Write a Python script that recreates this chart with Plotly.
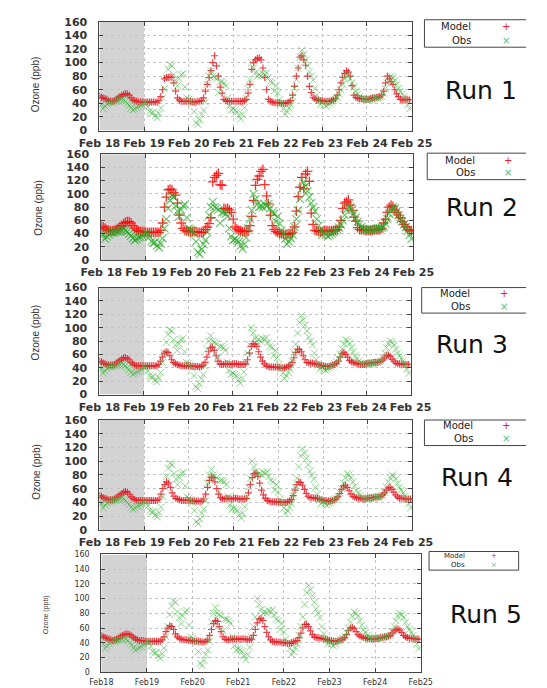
import plotly.graph_objects as go
from datetime import datetime, timedelta

# ---------------- data (hourly, 18 Feb 00:00 -> 24 Feb 23:00) ----------------
TICK_DATES = ["2013-02-18", "2013-02-19", "2013-02-20", "2013-02-21",
              "2013-02-22", "2013-02-23", "2013-02-24", "2013-02-25"]
TICK_TEXT = ["Feb 18", "Feb 19", "Feb 20", "Feb 21", "Feb 22", "Feb 23", "Feb 24", "Feb 25"]
TICK_TEXT_SMALL = ["Feb18", "Feb19", "Feb20", "Feb21", "Feb22", "Feb23", "Feb24", "Feb25"]
Y_TICKS = [0, 20, 40, 60, 80, 100, 120, 140, 160]
RUN_NAMES = ["Run 1", "Run 2", "Run 3", "Run 4", "Run 5"]

OBS = [
    41, 38, 32, 36, 39, 41, 42, 42, 43, 43, 44, 45, 46, 45, 43, 40, 37, 33, 30, 32, 34, 35, 37, 38,
    41, 40, 35, 28, 26, 27, 22, 19, 25, 33, 48, 62, 78, 90, 97, 95, 82, 74, 66, 76, 82, 84, 64, 48,
    46, 44, 40, 28, 12, 9, 16, 24, 30, 42, 68, 80, 88, 80, 78, 76, 56, 72, 72, 70, 66, 48, 36, 30,
    32, 30, 28, 22, 17, 24, 34, 48, 62, 75, 100, 92, 85, 80, 82, 80, 84, 82, 85, 78, 72, 70, 58, 66,
    55, 45, 40, 32, 24, 28, 33, 38, 50, 62, 75, 92, 108, 118, 112, 104, 95, 86, 80, 74, 62, 52, 44, 38,
    42, 38, 36, 38, 40, 42, 44, 46, 49, 54, 60, 68, 76, 82, 80, 76, 70, 64, 58, 54, 50, 47, 46, 46,
    46, 46, 45, 46, 47, 48, 48, 49, 50, 55, 62, 70, 76, 80, 78, 74, 68, 62, 58, 54, 50, 44, 38, 32,
]

MODEL_RUN1 = [
    51, 49, 48, 47, 46, 44, 43, 43, 44, 46, 48, 50, 52, 53, 54, 54, 52, 48, 45, 44, 43, 42, 42, 42,
    42, 42, 42, 42, 42, 42, 42, 42, 44, 50, 60, 76, 78, 78, 79, 78, 70, 58, 48, 45, 43, 43, 43, 43,
    43, 43, 42, 42, 42, 43, 43, 44, 48, 58, 68, 78, 88, 100, 110, 95, 80, 64, 55, 46, 44, 43, 43, 43,
    43, 43, 43, 43, 43, 43, 44, 46, 55, 68, 90, 100, 104, 106, 107, 104, 92, 78, 60, 46, 43, 42, 41, 41,
    41, 41, 40, 40, 40, 41, 42, 44, 52, 65, 80, 92, 108, 110, 104, 96, 80, 65, 56, 49, 47, 45, 45, 44,
    44, 43, 43, 43, 43, 44, 45, 47, 52, 60, 70, 78, 84, 88, 86, 80, 66, 52, 49, 48, 47, 47, 46, 46,
    46, 46, 47, 48, 48, 49, 49, 50, 52, 58, 70, 80, 76, 72, 68, 60, 54, 50, 46, 45, 45, 46, 46, 45,
]

MODEL_RUN2 = [
    51, 50, 48, 46, 45, 44, 44, 45, 46, 48, 50, 52, 55, 57, 58, 58, 56, 52, 48, 45, 44, 43, 43, 43,
    42, 42, 42, 42, 42, 42, 42, 42, 45, 56, 80, 95, 106, 107, 106, 102, 98, 86, 68, 56, 48, 45, 44, 43,
    43, 43, 43, 43, 42, 42, 42, 42, 46, 50, 55, 64, 118, 125, 128, 131, 114, 113, 78, 77, 78, 76, 72, 62,
    50, 47, 45, 44, 43, 43, 43, 44, 52, 66, 90, 113, 122, 127, 134, 137, 114, 97, 85, 68, 52, 46, 43, 42,
    40, 40, 39, 39, 39, 40, 40, 41, 50, 74, 96, 110, 125, 108, 130, 134, 119, 71, 54, 45, 44, 43, 43, 43,
    45, 45, 44, 44, 44, 44, 45, 46, 50, 60, 78, 86, 88, 91, 83, 75, 65, 59, 49, 46, 46, 46, 45, 45,
    45, 45, 45, 46, 46, 46, 46, 48, 56, 62, 72, 80, 83, 81, 76, 72, 68, 64, 58, 54, 50, 46, 45, 44,
]

MODEL_RUN3 = [
    50, 49, 47, 46, 45, 44, 44, 44, 45, 47, 49, 51, 53, 55, 55, 54, 52, 48, 46, 44, 43, 43, 43, 43,
    43, 43, 43, 43, 43, 43, 43, 43, 45, 50, 56, 62, 64, 63, 58, 52, 48, 46, 45, 44, 43, 43, 43, 43,
    43, 43, 42, 42, 42, 42, 41, 42, 44, 48, 56, 64, 70, 71, 66, 58, 50, 46, 45, 45, 46, 46, 45, 45,
    46, 46, 46, 45, 45, 45, 45, 46, 52, 62, 72, 76, 75, 72, 64, 56, 50, 46, 43, 42, 41, 41, 41, 41,
    41, 40, 40, 40, 40, 41, 42, 44, 48, 55, 63, 68, 67, 64, 58, 52, 48, 47, 47, 47, 46, 46, 45, 44,
    43, 43, 42, 42, 42, 43, 44, 45, 47, 50, 56, 61, 63, 60, 56, 51, 49, 48, 47, 46, 46, 45, 45, 45,
    46, 47, 47, 47, 48, 48, 48, 49, 50, 52, 55, 58, 59, 57, 53, 50, 47, 46, 46, 46, 45, 45, 45, 45,
]

MODEL_RUN4 = [
    50, 49, 47, 46, 45, 44, 44, 44, 45, 47, 49, 51, 53, 55, 56, 55, 52, 48, 46, 44, 43, 43, 43, 43,
    43, 43, 43, 43, 43, 43, 43, 43, 45, 52, 60, 66, 70, 68, 62, 54, 49, 46, 45, 44, 43, 43, 43, 43,
    43, 43, 42, 42, 42, 42, 41, 42, 45, 52, 62, 72, 77, 76, 70, 60, 52, 47, 45, 45, 46, 46, 45, 45,
    46, 46, 46, 45, 45, 45, 45, 46, 54, 66, 76, 82, 83, 78, 68, 58, 51, 46, 43, 42, 41, 41, 41, 41,
    41, 40, 40, 40, 40, 41, 42, 44, 50, 58, 66, 70, 69, 65, 59, 53, 49, 47, 47, 47, 46, 46, 45, 44,
    43, 43, 42, 42, 42, 43, 44, 45, 48, 53, 59, 64, 65, 62, 57, 52, 49, 48, 47, 46, 46, 45, 45, 45,
    46, 47, 47, 47, 48, 48, 48, 49, 51, 54, 58, 61, 62, 59, 55, 51, 48, 46, 46, 46, 45, 45, 45, 45,
]

MODEL_RUN5 = [
    50, 48, 47, 46, 45, 44, 43, 44, 45, 46, 48, 50, 51, 52, 52, 51, 49, 47, 45, 44, 43, 43, 43, 42,
    42, 42, 42, 42, 42, 42, 42, 42, 44, 48, 55, 60, 63, 62, 58, 52, 48, 46, 45, 44, 44, 44, 43, 43,
    43, 42, 42, 42, 42, 41, 41, 42, 44, 50, 58, 66, 70, 69, 62, 55, 48, 45, 44, 44, 45, 45, 45, 45,
    45, 45, 45, 45, 45, 44, 44, 45, 50, 58, 67, 72, 73, 70, 62, 54, 48, 44, 42, 41, 41, 41, 41, 40,
    40, 40, 39, 39, 40, 41, 42, 43, 47, 53, 60, 65, 65, 62, 56, 51, 48, 47, 47, 46, 46, 45, 45, 44,
    43, 43, 42, 42, 42, 43, 44, 45, 47, 51, 57, 60, 61, 59, 55, 51, 49, 48, 47, 46, 46, 45, 45, 45,
    45, 46, 46, 47, 47, 48, 48, 49, 50, 53, 56, 58, 59, 57, 54, 50, 48, 47, 46, 46, 46, 45, 45, 45,
]

MODELS = [MODEL_RUN1, MODEL_RUN2, MODEL_RUN3, MODEL_RUN4, MODEL_RUN5]

START = datetime(2013, 2, 18)
TIMES = [START + timedelta(hours=h) for h in range(len(OBS))]

# ---------------- layout geometry (pixels) ----------------
W, H = 547, 688


def px(x):
    return x / W


def py(y):
    return 1 - y / H


# plot box: left, right, top, bottom
PANELS = [
    dict(box=(85, 423, 16, 127), small=False),
    dict(box=(87, 425, 151, 259), small=False),
    dict(box=(85, 422, 287, 396), small=False),
    dict(box=(85, 424, 422, 534), small=False),
    dict(box=(87, 433, 559, 679), small=True),
]
# legend: box x0,y0,x1,y1 ; open on right? ; text right edge ; row y's ; marker x ; font size
LEGENDS = [
    dict(box=(437, 14, 547, 42), open_right=True, tx=490, rows=(21, 35), mx=525, fs=10),
    dict(box=(440, 150, 547, 177), open_right=True, tx=494, rows=(157, 170), mx=528, fs=10),
    dict(box=(434, 287, 547, 313), open_right=True, tx=488, rows=(293, 306), mx=523, fs=10),
    dict(box=(437, 422, 547, 448), open_right=True, tx=492, rows=(428, 441), mx=525, fs=10),
    dict(box=(442, 556, 539, 575), open_right=False, tx=483, rows=(561, 570), mx=512, fs=7),
]
RUN_LABEL_POS = [(498, 86, "center"), (499, 205, "center"), (488, 345, "center"),
                 (494, 481, "center"), (463, 620, "left")]
YTITLE_POS = [(16, 80, 10), (18, 206, 10), (16, 333, 10), (16, 475, 10), (27, 620, 7)]

MODEL_STYLE = [
    dict(size=5, width=1.2, color="rgba(228,30,40,0.85)"),
    dict(size=7, width=1.3, color="rgba(255,10,10,0.85)"),
    dict(size=5, width=1.2, color="rgba(228,30,40,0.85)"),
    dict(size=5, width=1.2, color="rgba(228,30,40,0.85)"),
    dict(size=5, width=1.2, color="rgba(228,30,40,0.85)"),
]
OBS_STYLE = [
    dict(size=7, width=1.0, color="rgba(70,185,70,0.6)"),
    dict(size=8, width=1.1, color="rgba(40,170,40,0.7)"),
    dict(size=7, width=1.0, color="rgba(70,185,70,0.6)"),
    dict(size=7, width=1.0, color="rgba(70,185,70,0.6)"),
    dict(size=7, width=1.0, color="rgba(70,185,70,0.6)"),
]

fig = go.Figure()
shapes = []
annotations = []
layout_axes = {}

for i, panel in enumerate(PANELS):
    n = "" if i == 0 else str(i + 1)
    xa, ya = "x" + n, "y" + n
    left, right, top, bottom = panel["box"]
    small = panel["small"]

    fig.add_trace(go.Scatter(
        x=TIMES, y=MODELS[i], xaxis=xa, yaxis=ya, mode="markers", name="Model",
        showlegend=False,
        marker=dict(symbol="cross-thin", size=MODEL_STYLE[i]["size"],
                    line=dict(width=MODEL_STYLE[i]["width"], color=MODEL_STYLE[i]["color"])),
    ))
    fig.add_trace(go.Scatter(
        x=TIMES, y=OBS, xaxis=xa, yaxis=ya, mode="markers", name="Obs",
        showlegend=False,
        marker=dict(symbol="x-thin", size=OBS_STYLE[i]["size"],
                    line=dict(width=OBS_STYLE[i]["width"], color=OBS_STYLE[i]["color"])),
    ))

    tfont = dict(family="DejaVu Sans", size=8 if small else 11, color="#333",
                 weight="normal" if small else "bold")
    layout_axes["xaxis" + n] = dict(
        domain=[px(left), px(right)], anchor=ya, type="date",
        range=[TICK_DATES[0], TICK_DATES[-1]],
        tickmode="array", tickvals=TICK_DATES,
        ticktext=TICK_TEXT_SMALL if small else TICK_TEXT,
        tickfont=tfont, showgrid=True, gridcolor="#c4c4c4", griddash="dot", gridwidth=1,
        showline=True, linecolor="#444", linewidth=1, mirror="allticks",
        ticks="inside", ticklen=4, tickcolor="#444", ticklabelstandoff=2,
        zeroline=False, fixedrange=True,
    )
    layout_axes["yaxis" + n] = dict(
        domain=[py(bottom), py(top)], anchor=xa, range=[0, 160],
        tickmode="array", tickvals=Y_TICKS, tickfont=tfont,
        showgrid=True, gridcolor="#c4c4c4", griddash="dot", gridwidth=1,
        showline=True, linecolor="#444", linewidth=1, mirror="allticks",
        ticks="inside", ticklen=4, tickcolor="#444", ticklabelstandoff=9,
        zeroline=False, fixedrange=True,
    )

    # grey spin-up shading (Feb 18 -> Feb 19)
    shapes.append(dict(type="rect", xref=xa, yref=ya, x0=TICK_DATES[0], x1=TICK_DATES[1],
                       y0=0, y1=160, fillcolor="#d3d3d3", line=dict(width=0), layer="below"))

    # legend box (cut off by the right page edge in the reference for runs 1-4)
    lg = LEGENDS[i]
    x0, y0, x1, y1 = lg["box"]
    X0, X1, Y0, Y1 = px(x0), px(x1), py(y1), py(y0)
    if lg["open_right"]:
        path = f"M {X1},{Y1} L {X0},{Y1} L {X0},{Y0} L {X1},{Y0}"
    else:
        path = f"M {X0},{Y0} L {X1},{Y0} L {X1},{Y1} L {X0},{Y1} Z"
    shapes.append(dict(type="path", xref="paper", yref="paper", path=path,
                       line=dict(color="#444", width=1), layer="above"))
    for label, ry, sym, col in [("Model", lg["rows"][0], "+", "#e8202a"),
                                ("Obs", lg["rows"][1], "×", "#5cbf5c")]:
        annotations.append(dict(xref="paper", yref="paper", x=px(lg["tx"]), y=py(ry),
                                text=label, showarrow=False, xanchor="right", yanchor="middle",
                                font=dict(family="DejaVu Sans", size=lg["fs"], color="#222")))
        annotations.append(dict(xref="paper", yref="paper", x=px(lg["mx"]), y=py(ry),
                                text=sym, showarrow=False, xanchor="center", yanchor="middle",
                                font=dict(family="DejaVu Sans", size=lg["fs"], color=col)))

    # run label
    rx, ry, anc = RUN_LABEL_POS[i]
    annotations.append(dict(xref="paper", yref="paper", x=px(rx), y=py(ry), text=RUN_NAMES[i],
                            showarrow=False, xanchor=anc, yanchor="middle",
                            font=dict(family="DejaVu Sans", size=25, color="#111")))
    # y-axis title
    tx, ty, tfs = YTITLE_POS[i]
    annotations.append(dict(xref="paper", yref="paper", x=px(tx), y=py(ty), text="Ozone (ppb)",
                            showarrow=False, textangle=-90, xanchor="center", yanchor="middle",
                            font=dict(family="Liberation Sans", size=tfs, color="#333")))

fig.update_layout(
    width=W, height=H, margin=dict(l=0, r=0, t=0, b=0),
    paper_bgcolor="white", plot_bgcolor="white", showlegend=False,
    shapes=shapes, annotations=annotations, **layout_axes,
)

fig.write_html("out.html", config={"displayModeBar": False})
